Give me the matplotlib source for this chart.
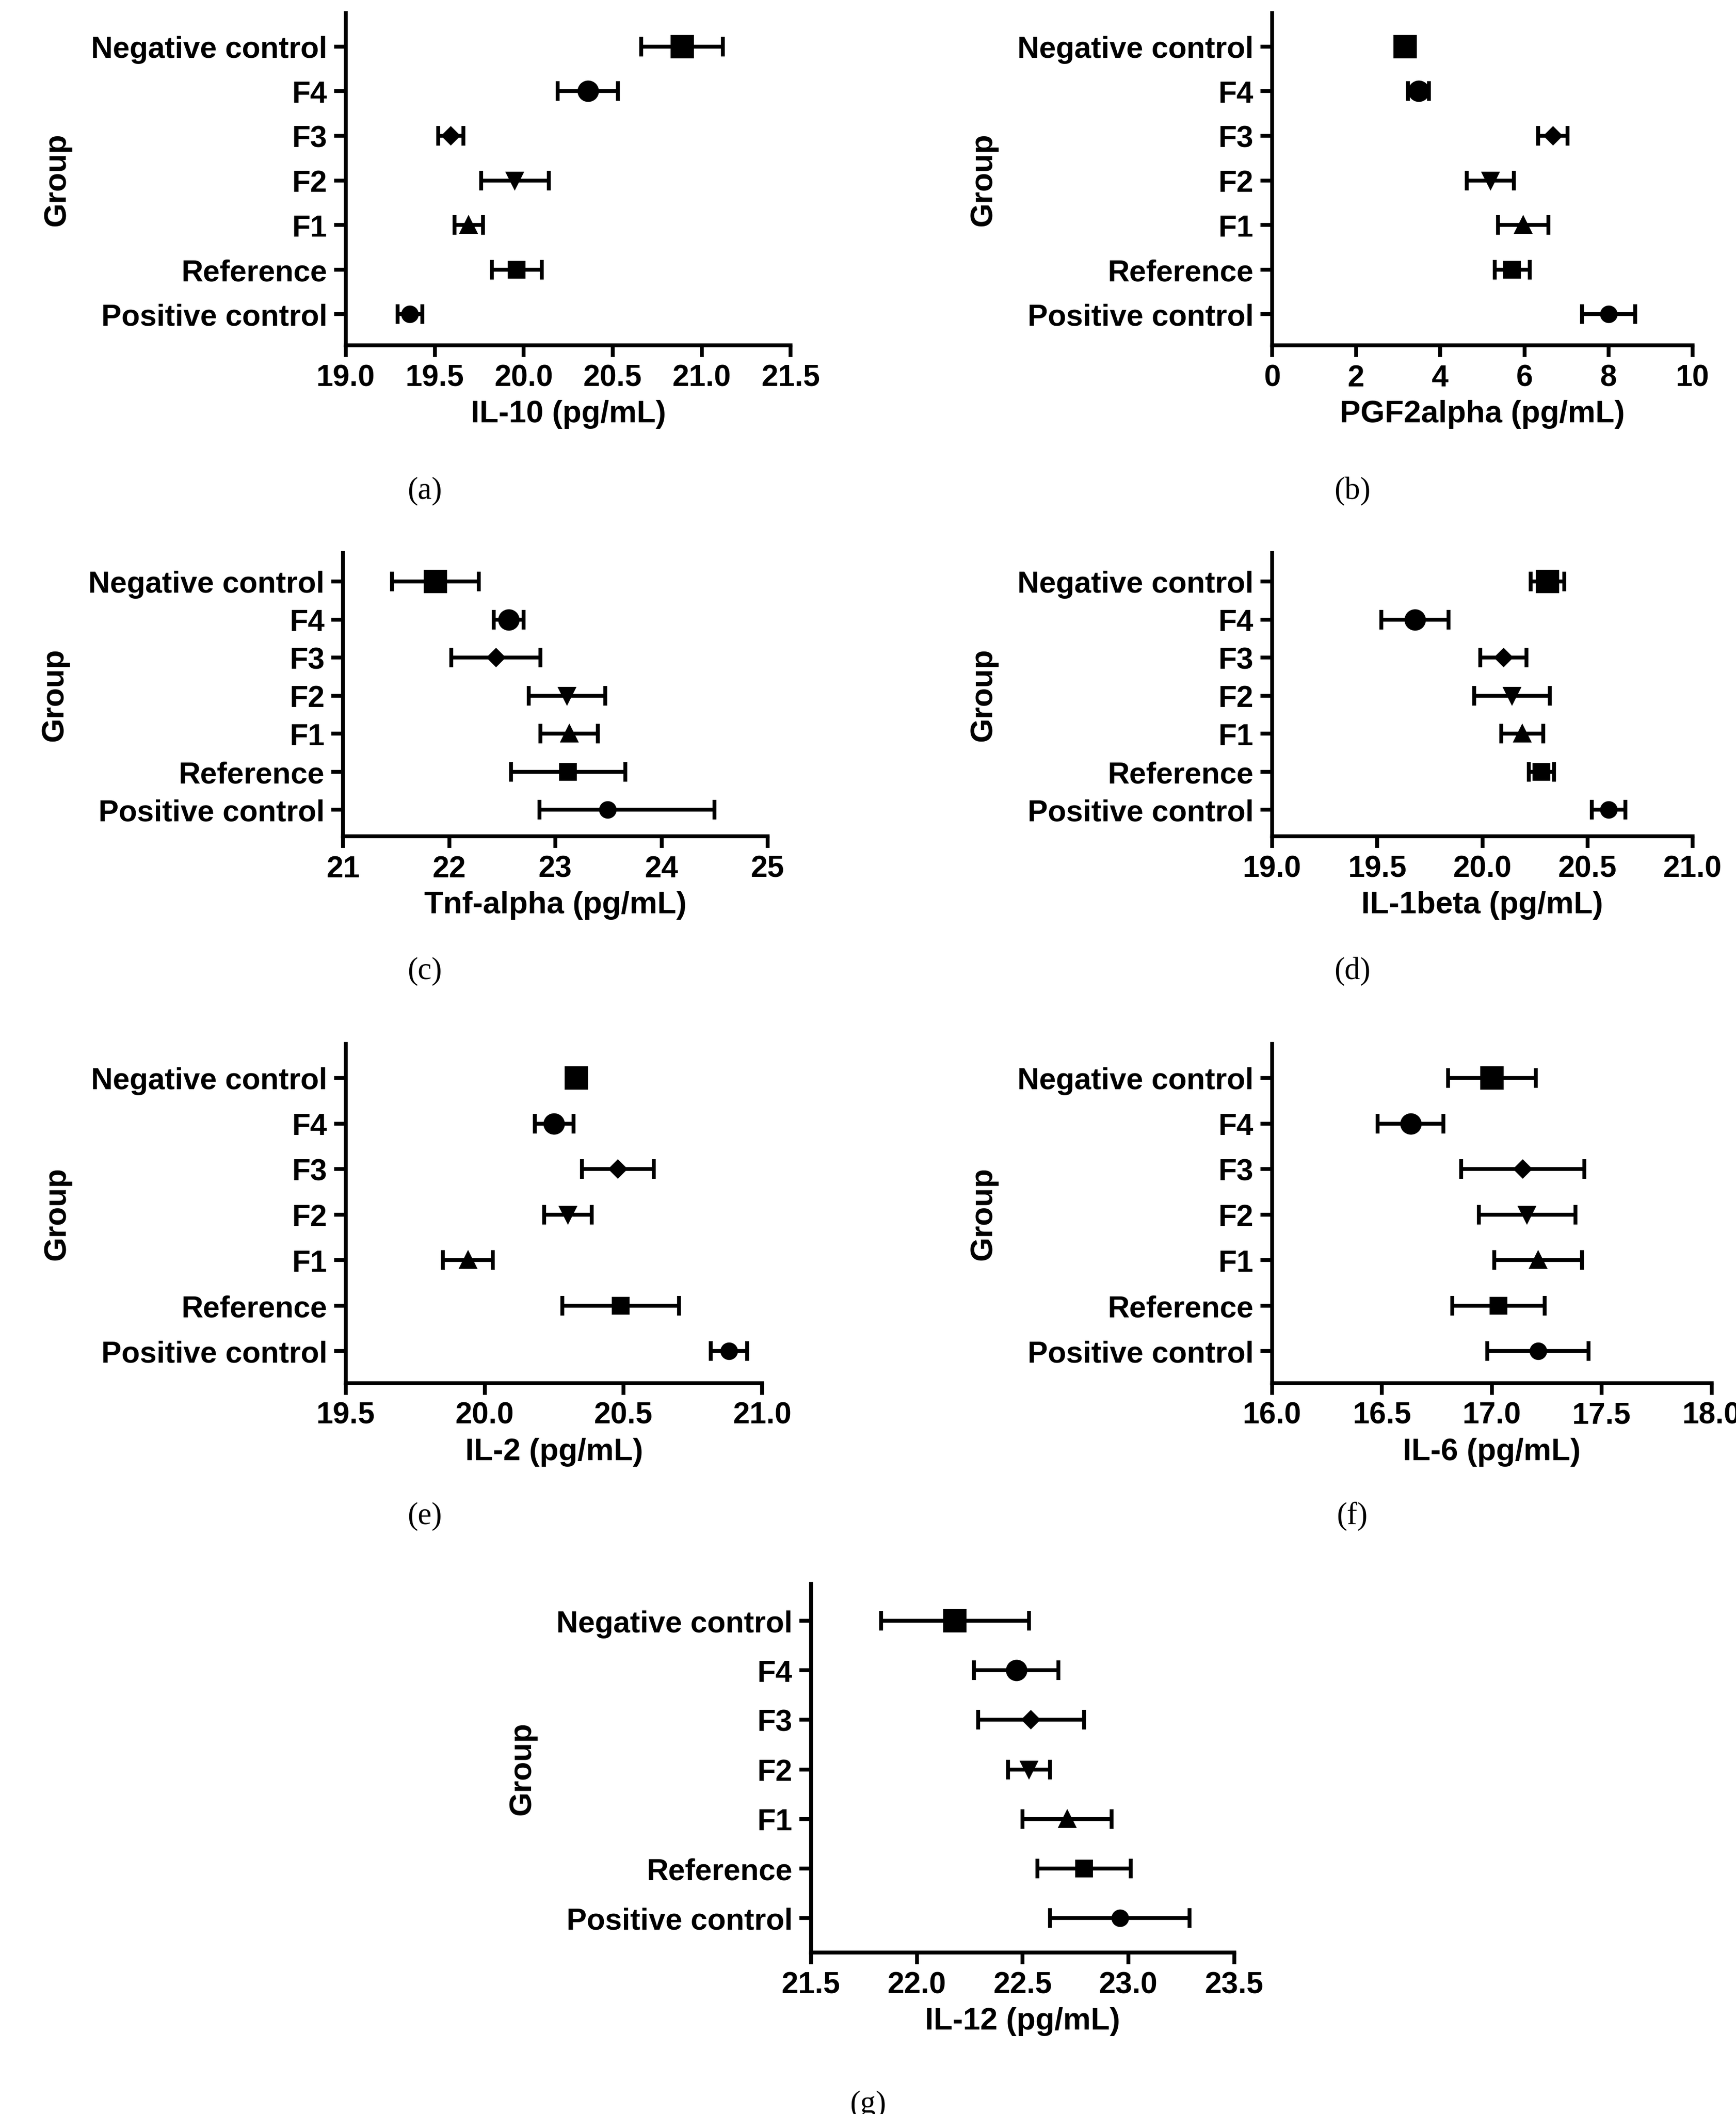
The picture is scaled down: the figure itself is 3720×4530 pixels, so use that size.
import matplotlib
matplotlib.use("Agg")
import matplotlib.pyplot as plt

plt.rcParams['font.family'] = ['Liberation Sans', 'DejaVu Sans']

groups = ["Negative control", "F4", "F3", "F2", "F1", "Reference", "Positive control"]
markers = ["s", "o", "D", "v", "^", "s", "o"]
msizes = [11, 10, 6, 8, 8, 8, 8]

il10_mean = [20.89, 20.36, 19.59, 19.95, 19.69, 19.96, 19.36]
il10_err = [0.23, 0.17, 0.07, 0.19, 0.08, 0.14, 0.07]
pgf_mean = [3.16, 3.48, 6.68, 5.19, 5.97, 5.71, 8.0]
pgf_err = [0.15, 0.25, 0.35, 0.56, 0.6, 0.42, 0.63]
tnf_mean = [21.87, 22.56, 22.44, 23.11, 23.13, 23.12, 23.49]
tnf_err_lo = [0.41, 0.14, 0.42, 0.36, 0.27, 0.54, 0.64]
tnf_err_hi = [0.41, 0.14, 0.42, 0.36, 0.27, 0.54, 1.01]
il1b_mean = [20.31, 19.68, 20.10, 20.14, 20.19, 20.28, 20.60]
il1b_err = [0.08, 0.16, 0.11, 0.18, 0.10, 0.06, 0.08]
il2_mean = [20.33, 20.25, 20.48, 20.30, 19.94, 20.49, 20.88]
il2_err = [0.02, 0.07, 0.13, 0.085, 0.09, 0.21, 0.065]
il6_mean = [17.0, 16.63, 17.14, 17.16, 17.21, 17.03, 17.21]
il6_err = [0.2, 0.15, 0.28, 0.22, 0.2, 0.21, 0.23]
il12_mean = [22.18, 22.47, 22.54, 22.53, 22.71, 22.79, 22.96]
il12_err = [0.35, 0.2, 0.25, 0.1, 0.21, 0.22, 0.33]

W, H = 1280, 1559
panels = [
    (il10_mean, il10_err, "IL-10 (pg/mL)", (19.0, 21.5), [19.0 + 0.5 * i for i in range(6)], "{:.1f}", (255, 583, 10, 255), "(a)", (313, 362)),
    (pgf_mean, pgf_err, "PGF2alpha (pg/mL)", (0, 10), list(range(0, 11, 2)), "{:.0f}", (938, 1248, 10, 255), "(b)", (997, 362)),
    (tnf_mean, [tnf_err_lo, tnf_err_hi], "Tnf-alpha (pg/mL)", (21, 25), list(range(21, 26)), "{:.0f}", (253, 566, 408, 617), "(c)", (313, 716)),
    (il1b_mean, il1b_err, "IL-1beta (pg/mL)", (19.0, 21.0), [19.0 + 0.5 * i for i in range(5)], "{:.1f}", (938, 1248, 408, 617), "(d)", (997, 716)),
    (il2_mean, il2_err, "IL-2 (pg/mL)", (19.5, 21.0), [19.5 + 0.5 * i for i in range(4)], "{:.1f}", (255, 562, 770, 1020), "(e)", (313, 1118)),
    (il6_mean, il6_err, "IL-6 (pg/mL)", (16.0, 18.0), [16.0 + 0.5 * i for i in range(5)], "{:.1f}", (938, 1262, 770, 1020), "(f)", (997, 1118)),
    (il12_mean, il12_err, "IL-12 (pg/mL)", (21.5, 23.5), [21.5 + 0.5 * i for i in range(5)], "{:.1f}", (598, 910, 1168, 1440), "(g)", (640, 1552)),
]

fig = plt.figure(figsize=(12.4, 15.103), dpi=300)
for mean, err, xl, xlim, xt, fmt, (l, r, t, b), cap, (cx, cy) in panels:
    ax = fig.add_axes([l / W, 1 - b / H, (r - l) / W, (b - t) / H])
    ypos = list(range(len(groups)))
    for i in ypos:
        e = [[err[0][i]], [err[1][i]]] if isinstance(err[0], list) else err[i]
        ax.errorbar(mean[i], i, xerr=e, fmt=markers[i], color="black", ms=msizes[i],
                    elinewidth=2, capsize=5, capthick=2)
    ax.set_ylim(len(groups) - 0.3, -0.75)
    ax.set_yticks(ypos)
    ax.set_yticklabels(groups, fontsize=15.5, fontweight="bold")
    ax.set_xlim(*xlim)
    ax.set_xticks(xt)
    ax.set_xticklabels([fmt.format(v) for v in xt], fontsize=15.5, fontweight="bold")
    ax.set_xlabel(xl, fontsize=16, fontweight="bold", labelpad=4)
    ax.set_ylabel("Group", fontsize=16, fontweight="bold", labelpad=10)
    for s in ["top", "right"]:
        ax.spines[s].set_visible(False)
    for s in ["left", "bottom"]:
        ax.spines[s].set_linewidth(2)
    ax.tick_params(width=2, length=6)
    fig.text(cx / W, 1 - cy / H, cap, ha="center", va="center", fontsize=16,
             family=["Liberation Serif", "DejaVu Serif"])

fig.savefig("out.png", dpi=300)
